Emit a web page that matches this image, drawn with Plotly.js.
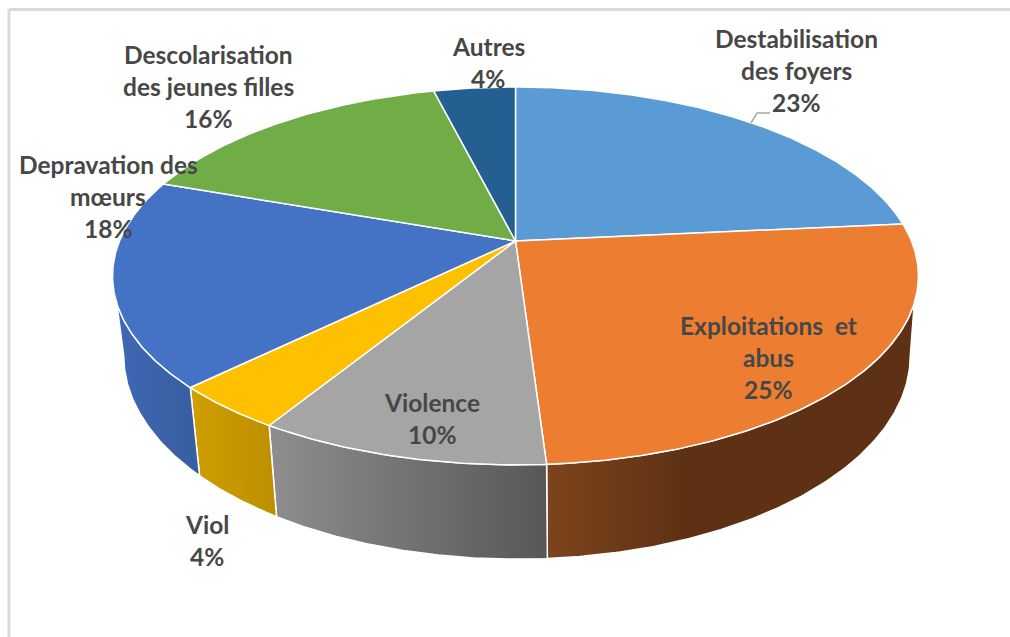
<!DOCTYPE html>
<html>
<head>
<meta charset="utf-8">
<script src="https://cdn.plot.ly/plotly-3.0.1.min.js"></script>
<style>html,body{margin:0;padding:0;background:#fff}#c{width:1010px;height:637px}</style>
</head>
<body>
<div id="c"></div>
<script>
// ---- data
const categories = ["Destabilisation des foyers","Exploitations et abus","Violence","Viol","Depravation des mœurs","Descolarisation des jeunes filles","Autres"];
const labelLines = [["Destabilisation","des foyers"],["Exploitations  et","abus"],["Violence"],["Viol"],["Depravation des","mœurs"],["Descolarisation","des jeunes filles"],["Autres"]];
const values = [23.49,25.49,9.8,3.9,17.7,15.7,3.92];
const topColors = ["#5B9BD5","#ED7D31","#A5A5A5","#FFC000","#4472C4","#70AD47","#255E91"];
const wallScales = [null,
  [[0,"#7c441c"],[0.38,"#5e3114"],[1,"#5e3114"]],
  [[0,"#8e8e8e"],[1,"#575757"]],
  [[0,"#cf9e00"],[1,"#bd8f00"]],
  [[0,"#3e68b4"],[1,"#375e9f"]],
  null,null];
// ---- drawing set-up: a perspective view of the disc
const labelCentres = [[796,39],[768,326],[432,403],[207,525],[108,165],[208,55],[488,47]];
const leader = {x:[751,757,770],y:[123,113,113]};
const view = {top:{cx:515.5,a:396,b:182.5,y0:241}, bottom:{cx:517,a:386.5,b:196.5,y0:318}, k:0.185};
const wallFrom = 108.7, wallTo = 251.3, tangentFrom = 100.7, tangentTo = 259.3;
const lineGap = 32;

function project(deg, d){
  const t = deg*Math.PI/180, u = Math.sin(t), v = Math.cos(t), w = 1+view.k*v;
  return [d.cx + d.a*u/w, d.y0 - d.b*v/w];
}
function arc(from, to, d){
  const n = Math.max(2, Math.ceil(Math.abs(to-from))*2), pts = [];
  for(let i=0;i<=n;i++) pts.push(project(from+(to-from)*i/n, d));
  return pts;
}
const total = values.reduce((a,b)=>a+b,0);
let cum = 0;
const spans = values.map(v=>{const s=cum*360/total; cum+=v; return [s,cum*360/total];});

const traces = [];
// walls
spans.forEach((s,i)=>{
  if(!wallScales[i]) return;
  const a = Math.max(s[0],wallFrom), b = Math.min(s[1],wallTo);
  if(a>=b) return;
  const upper = arc(a,b,view.top);
  const lower = arc(Math.max(s[0],tangentFrom),Math.min(s[1],tangentTo),view.bottom).reverse();
  const p = upper.concat(lower); p.push(upper[0]);
  traces.push({type:"scatter",mode:"lines",x:p.map(q=>q[0]),y:p.map(q=>q[1]),fill:"toself",
    fillgradient:{type:"horizontal",colorscale:wallScales[i]},
    line:{color:"#ffffff",width:1.5},hoverinfo:"skip"});
});
// top faces
spans.forEach((s,i)=>{
  const c = [view.top.cx,view.top.y0];
  const p = [c].concat(arc(s[0],s[1],view.top)); p.push(c);
  traces.push({type:"scatter",mode:"lines",x:p.map(q=>q[0]),y:p.map(q=>q[1]),fill:"toself",
    fillcolor:topColors[i],line:{color:"#ffffff",width:1.5},
    name:categories[i],text:categories[i]+": "+Math.round(values[i])+"%",hoverinfo:"text"});
});
traces.push({type:"scatter",mode:"lines",x:leader.x,y:leader.y,line:{color:"#a6a6a6",width:1.5},hoverinfo:"skip"});

const annotations = [];
labelLines.forEach((lines,i)=>{
  lines.concat([Math.round(values[i])+"%"]).forEach((t,j)=>{
    annotations.push({x:labelCentres[i][0],y:labelCentres[i][1]+j*lineGap-0.5,xref:"x",yref:"y",text:t,showarrow:false,
      xanchor:"center",yanchor:"middle",font:{family:"Lato, sans-serif",size:24.5,color:"#474747",weight:700}});
  });
});

const layout = {
  width:1010,height:637,margin:{l:0,r:0,t:0,b:0},showlegend:false,
  paper_bgcolor:"#ffffff",plot_bgcolor:"#ffffff",
  xaxis:{range:[0,1010],visible:false,fixedrange:true},
  yaxis:{range:[637,0],visible:false,fixedrange:true},
  shapes:[
    {type:"line",xref:"x",yref:"y",x0:9,x1:1010,y0:9.5,y1:9.5,line:{color:"#d9d9d9",width:3}},
    {type:"line",xref:"x",yref:"y",x0:9,x1:9,y0:9.5,y1:637,line:{color:"#d9d9d9",width:3}}
  ],
  annotations
};
Plotly.newPlot("c",traces,layout,{displayModeBar:false,staticPlot:false});
</script>
</body>
</html>
